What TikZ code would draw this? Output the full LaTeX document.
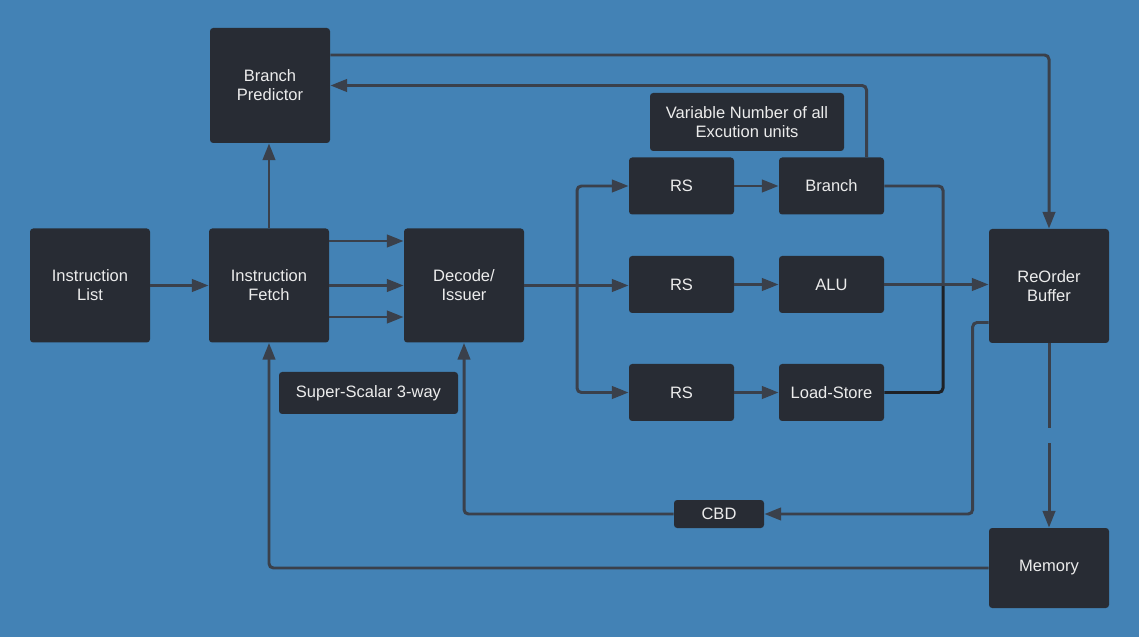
\documentclass[tikz,border=0pt]{standalone}
\usepackage{fontspec}
\setmainfont{Liberation Sans}
\usetikzlibrary{arrows.meta}
\definecolor{bgblue}{RGB}{67,130,181}
\definecolor{boxgray}{RGB}{40,44,52}
\definecolor{wiregray}{RGB}{58,64,75}
\definecolor{wiredark}{RGB}{30,33,38}
\definecolor{txtwhite}{RGB}{236,236,236}
\tikzset{
  unit/.style={draw=none, fill=boxgray, rounded corners=1.8pt, text=txtwhite,
    align=center, font=\fontsize{9.4}{10.8}\selectfont, inner sep=0pt,
    minimum width=2.4cm, minimum height=2.28cm},
  small/.style={unit, minimum width=2.1cm, minimum height=1.14cm},
  wire/.style={draw=wiregray, line width=1.7pt, rounded corners=2.5pt,
    -{Triangle[length=9.5pt, width=7pt]}},
}
\begin{document}
\begin{tikzpicture}
      \fill[bgblue] (0,0) rectangle (22.78,-12.74);
      \useasboundingbox (0,0) rectangle (22.78,-12.74);
      \node[unit, minimum height=2.3cm] (bp) at (5.4,-1.71) {Branch\\Predictor};
      \node[unit] (il) at (1.8,-5.71) {Instruction\\List};
      \node[unit] (fetch) at (5.38,-5.71) {Instruction\\Fetch};
      \node[unit] (dec) at (9.28,-5.71) {Decode/\\Issuer};
      \node[unit] (rob) at (20.98,-5.72) {ReOrder\\Buffer};
      \node[unit, minimum height=1.6cm] (mem) at (20.98,-11.36) {Memory};
      \node[unit, minimum width=3.88cm, minimum height=1.16cm] (var) at (14.94,-2.44) {Variable Number of all\\Excution units};
      \node[small] (rs1) at (13.63,-3.72) {RS};
      \node[small] (brn) at (16.63,-3.72) {Branch};
      \node[small] (rs2) at (13.63,-5.69) {RS};
      \node[small] (alu) at (16.63,-5.69) {ALU};
      \node[small] (rs3) at (13.63,-7.85) {RS};
      \node[small] (ls) at (16.63,-7.85) {Load-Store};
      \node[unit, minimum width=3.58cm, minimum height=0.84cm] (ss) at (7.37,-7.86) {Super-Scalar 3-way};
      \node[unit, minimum width=1.8cm, minimum height=0.56cm] (cbd) at (14.38,-10.28) {CBD};
      \coordinate (split) at (11.54,-5.71);
      \coordinate (merge) at (18.86,-5.72);
      \coordinate (gapA) at (20.98,-8.56);
      \coordinate (gapB) at (20.98,-8.86);
      \begin{scope}[wire]
        \draw (il) -- (fetch);
        \draw ([yshift=0.89cm]fetch.east) -- ([yshift=0.89cm]dec.west);
        \draw (fetch.east) -- (dec.west);
        \draw ([yshift=-0.63cm]fetch.east) -- ([yshift=-0.63cm]dec.west);
        \draw (fetch.north) -- (fetch.north |- bp.south);
        \draw ([yshift=0.61cm]bp.east) -| (rob.north);
        \draw ([xshift=0.7cm]brn.north) |- (bp.east);
        \draw (dec.east) -- (dec.east -| rs2.west);
        \draw (split) |- (rs1.west);
        \draw (split) |- (rs3.west);
        \draw (rs1) -- (brn);
        \draw (rs2) -- (alu);
        \draw (rs3) -- (ls);
        \draw[-] (brn.east) -| (merge);
        \draw[-, draw=wiredark] (ls.east) -| (merge);
        \draw (alu.east) -- (alu.east -| rob.west);
        \draw[-] (rob.south) -- (gapA);
        \draw (gapB) -- (mem.north);
        \draw ([yshift=-0.73cm]rob.west) -- ++(-0.32,0) |- (cbd.east);
        \draw (cbd.west) -| (dec.south);
        \draw (mem.west) -| (fetch.south);
      \end{scope}
    \end{tikzpicture}
\end{document}
